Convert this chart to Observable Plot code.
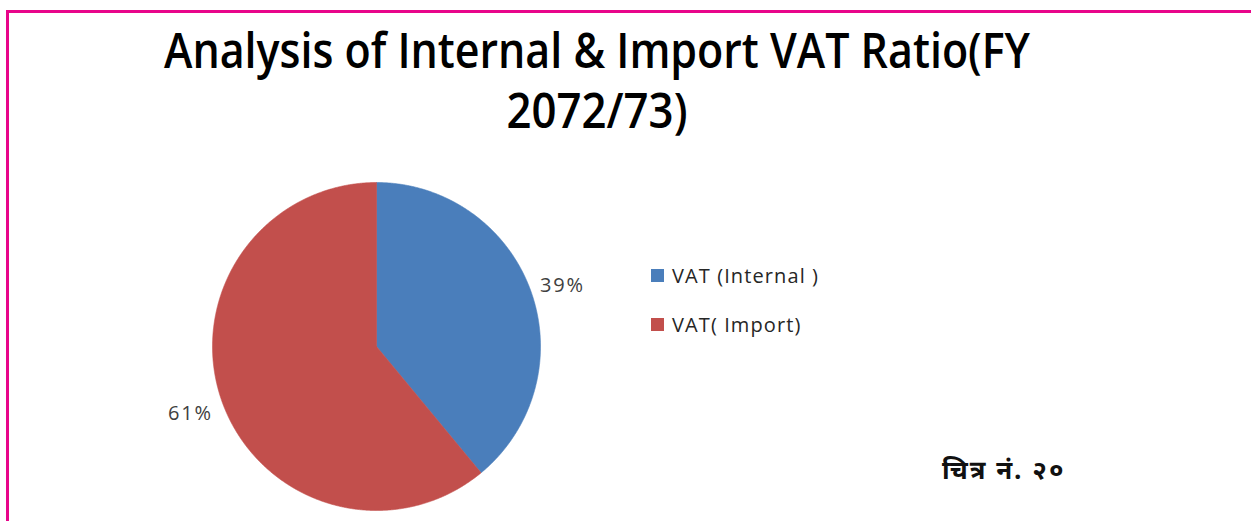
<!DOCTYPE html>
<html>
<head>
<meta charset="utf-8">
<script src="https://cdn.jsdelivr.net/npm/d3@7"></script>
<script src="https://cdn.jsdelivr.net/npm/@observablehq/plot@0.6"></script>
<style>
  html, body { margin: 0; padding: 0; background: #fff; }
  #page { position: relative; width: 1251px; height: 521px; overflow: hidden; background: #fff; }
  #frame { position: absolute; left: 6px; top: 10px; width: 1300px; height: 600px; border-left: 3px solid #E8058A; border-top: 3px solid #E8058A; box-sizing: border-box; }
  #title { position: absolute; left: 0; top: 0; }
  #chart { position: absolute; left: 0; top: 0; }
  #chart svg text.lbl { letter-spacing: 1.8px; }
  .legend { position: absolute; left: 651px; font-family: "Open Sans", "Noto Sans", sans-serif; font-size: 20px; letter-spacing: 1.1px; color: #262626; display: flex; align-items: center; white-space: pre; }
  .legend .sw { width: 13px; height: 13px; margin-right: 8px; }
  #caption { position: absolute; left: 942px; top: 456px; font-family: "Noto Sans Devanagari", "Noto Sans", sans-serif; font-weight: bold; font-size: 26px; letter-spacing: 2px; color: #111; white-space: pre; }
</style>
</head>
<body>
<div id="page">
  <div id="frame"></div>
  <svg id="title" width="1251" height="150" xmlns="http://www.w3.org/2000/svg"></svg>
  <div id="chart"></div>
  <div id="legend"></div>
  <div id="caption"></div>
</div>
<script>
// ---- data ----
const titleLines = ["Analysis of Internal & Import VAT Ratio(FY", "2072/73)"];
const categories = ["VAT (Internal )", "VAT( Import)"];
const shares = [39, 61];
const shareLabels = ["39%", "61%"];
const sliceColors = ["#4A7EBB", "#C24F4C"];
const captionText = "चित्र नं. २०";

// ---- title ----
const tsvg = d3.select("#title");
const titleWidths = [866, 181];
titleLines.forEach((t, i) => {
  tsvg.append("text")
    .attr("x", 597).attr("y", 68 + i * 60)
    .attr("text-anchor", "middle")
    .attr("font-family", "'Open Sans', Lato, sans-serif")
    .attr("font-weight", 600)
    .attr("font-size", 49)
    .attr("fill", "#000")
    .attr("textLength", titleWidths[i])
    .attr("lengthAdjust", "spacingAndGlyphs")
    .text(t);
});

// ---- pie geometry from data ----
const rows = categories.map((c, i) => ({name: c, share: shares[i], label: shareLabels[i]}));
const arcs = d3.pie().sort(null).value(d => d.share)(rows);
const slicePts = arcs.flatMap(a => {
  const pts = [{name: a.data.name, x: 0, y: 0}];
  const n = Math.max(2, Math.ceil((a.endAngle - a.startAngle) / 0.005));
  for (let i = 0; i <= n; i++) {
    const t = a.startAngle + (a.endAngle - a.startAngle) * i / n;
    pts.push({name: a.data.name, x: Math.sin(t), y: Math.cos(t)});
  }
  pts.push({name: a.data.name, x: 0, y: 0});
  return pts;
});
const labelR = 1.06;
const labelPts = arcs.map(a => {
  const m = (a.startAngle + a.endAngle) / 2;
  return {name: a.data.name, text: a.data.label, x: labelR * Math.sin(m), y: labelR * Math.cos(m)};
});

const chart = Plot.plot({
  width: 1251,
  height: 521,
  margin: 0,
  style: {background: "transparent", overflow: "visible"},
  x: {domain: [-1, 1], range: [212, 540], axis: null},
  y: {domain: [-1, 1], range: [510, 182], axis: null},
  color: {domain: categories, range: sliceColors},
  marks: [
    Plot.line(slicePts, {x: "x", y: "y", z: "name", fill: "name", stroke: "name", strokeWidth: 0.6, curve: "linear"}),
    Plot.text(labelPts.filter(d => d.x >= 0), {x: "x", y: "y", text: "text", textAnchor: "start", dy: -2,
      fontSize: 20, fill: "#404040", fontFamily: "'Open Sans', sans-serif"}),
    Plot.text(labelPts.filter(d => d.x < 0), {x: "x", y: "y", text: "text", textAnchor: "end", dy: 8,
      fontSize: 20, fill: "#404040", fontFamily: "'Open Sans', sans-serif"})
  ]
});
document.getElementById("chart").appendChild(chart);
d3.select(chart).selectAll("g[aria-label=text] text").attr("class", "lbl");

// ---- legend ----
const leg = d3.select("#legend");
categories.forEach((c, i) => {
  const item = leg.append("div").attr("class", "legend").style("top", (262 + i * 49) + "px");
  item.append("div").attr("class", "sw").style("background", sliceColors[i]);
  item.append("span").text(c);
});

// ---- caption ----
document.getElementById("caption").textContent = captionText;
</script>
</body>
</html>
